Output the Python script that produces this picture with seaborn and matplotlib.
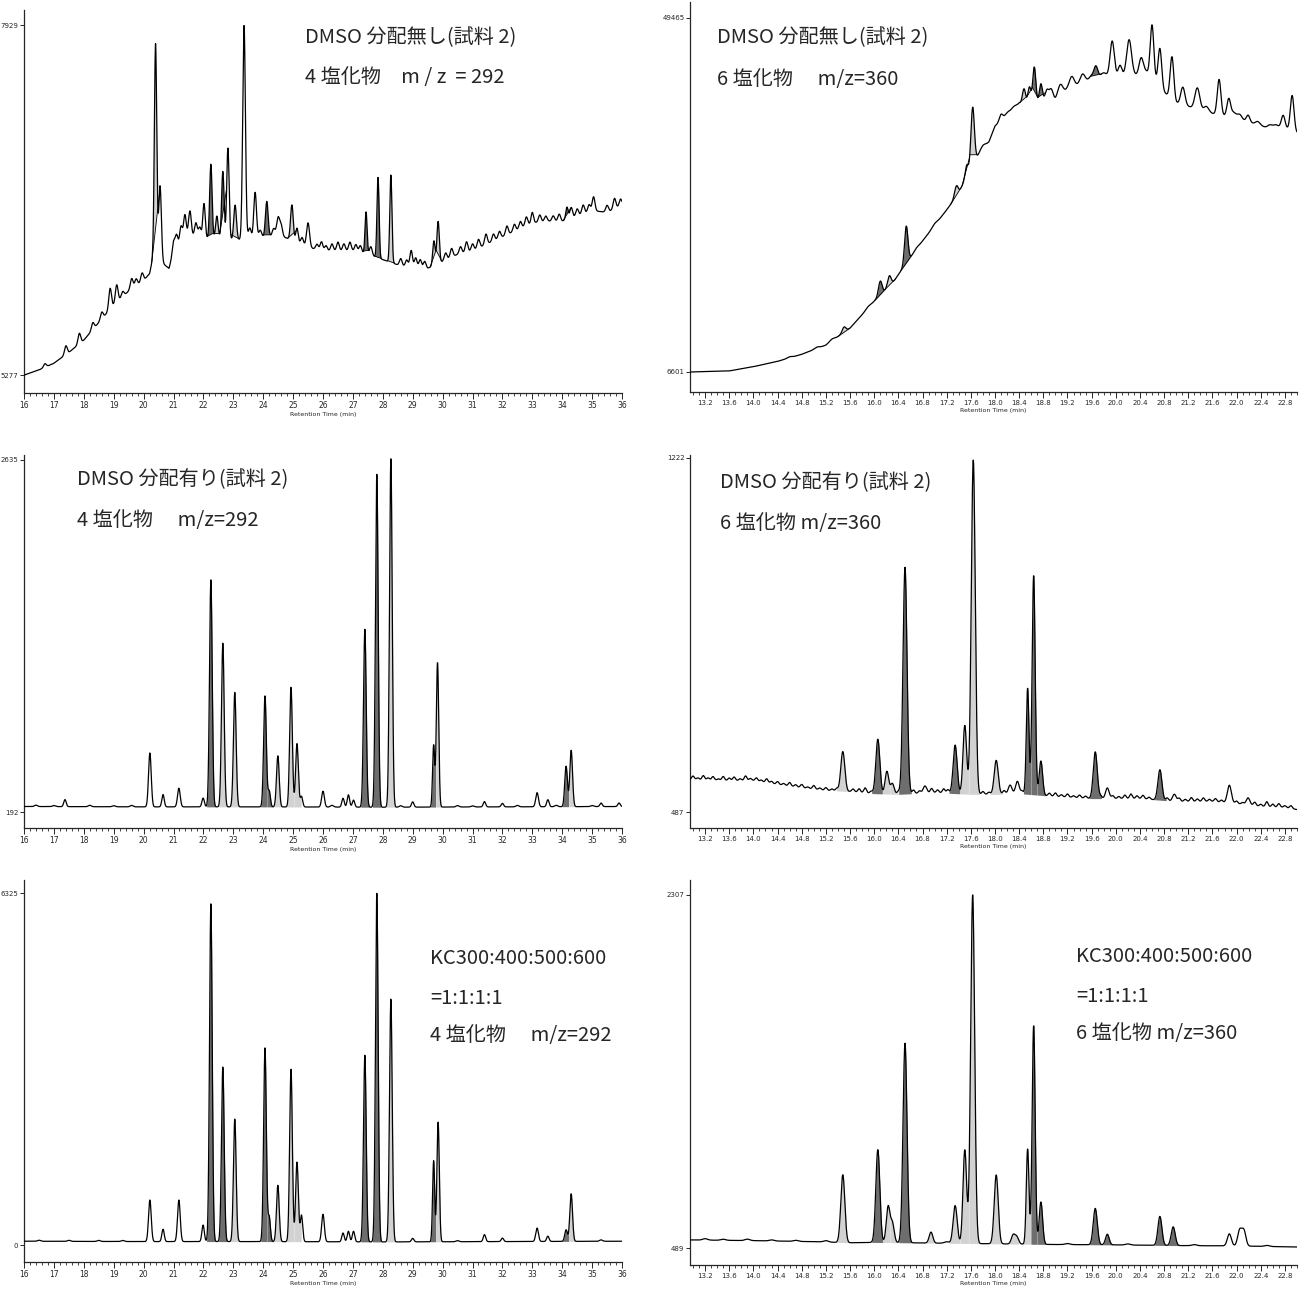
import numpy as np
import pandas as pd
import matplotlib
matplotlib.use("Agg")
import matplotlib.pyplot as plt
import seaborn as sns
from matplotlib.ticker import MultipleLocator

sns.set_style("ticks")
plt.rcParams["font.family"] = ["Noto Sans CJK JP", "DejaVu Sans"]

# ---------------- data (intensity in % of the range between the two y labels) -----------
# Panel 1: DMSO 分配無し, 4塩化物 m/z=292
p1_base_t = [16.0, 16.5, 17.0, 17.5, 18.0, 18.5, 19.0, 19.5, 20.0, 20.2, 20.3, 20.7, 20.85, 21.0,
             21.5, 22.0, 22.5, 23.0, 23.5, 24.0, 24.5, 25.0, 25.5, 26.0, 26.5, 27.0, 27.5, 28.0,
             28.5, 29.0, 29.5, 30.0, 30.5, 31.0, 31.5, 32.0, 32.5, 33.0, 33.5, 34.0, 34.5, 35.0,
             35.5, 36.0]
p1_base_y = [0, 1.5, 3.4, 6.5, 10, 15, 20, 24, 27, 29, 33, 31.5, 30.5, 35,
             40, 39, 39.5, 38.5, 39, 39.5, 40, 38.5, 36.5, 35.5, 35.5, 35.5, 34.5, 33,
             31.5, 30.5, 30.5, 32.5, 34.5, 35.5, 37.5, 39.5, 41.5, 43.5, 44, 44, 45.5, 47,
             46.5, 48.5]
p1_peaks = [(20.40, 62, 0.04, "l"), (20.55, 22, 0.045, None), (22.02, 10, 0.04, None),
            (22.25, 21, 0.04, "d"), (22.45, 6, 0.04, "l"), (22.65, 19, 0.04, "d"),
            (22.82, 26, 0.04, None), (23.06, 10, 0.045, "l"), (23.36, 61, 0.045, None),
            (23.73, 13, 0.045, None), (24.12, 10, 0.045, "d"), (24.50, 5, 0.05, None),
            (24.96, 10, 0.045, "l"), (25.13, 4, 0.04, None), (25.50, 7, 0.05, None),
            (27.44, 12, 0.035, "d"), (27.84, 23, 0.035, "d"), (28.27, 25, 0.035, "l"),
            (29.71, 7, 0.04, "l"), (29.85, 12, 0.04, "l"), (33.00, 3, 0.04, None),
            (34.16, 3.5, 0.04, "d")]
p1_noise = [(16.7, 1), (17.4, 2.5), (17.85, 3), (18.3, 2), (18.6, 2), (18.88, 6), (19.1, 5),
            (19.3, 1.5), (19.6, 3), (19.75, 2), (19.95, 2.5), (21.0, 3), (21.1, 4), (21.25, 5),
            (21.38, 7), (21.55, 7), (21.75, 4), (21.88, 3), (23.55, 3), (23.9, 2), (24.35, 2),
            (24.6, 3), (25.3, 2), (25.8, 1.5), (25.95, 2.5), (26.1, 1.5), (26.3, 2), (26.5, 2.5),
            (26.7, 2), (26.9, 2.5), (27.1, 2), (27.25, 2), (27.6, 2.5), (28.6, 2), (28.8, 2),
            (28.95, 5), (29.1, 3), (29.25, 2.5), (29.4, 2), (30.1, 2), (30.3, 2.5), (30.6, 2),
            (30.8, 3), (31.0, 2), (31.2, 2.5), (31.45, 3), (31.7, 2), (31.9, 2), (32.15, 2.5),
            (32.4, 2), (32.6, 2), (32.8, 2.5), (33.25, 2), (33.45, 1.5), (33.7, 1.5), (33.9, 2),
            (34.3, 3), (34.5, 2), (34.7, 2.5), (34.9, 2), (35.05, 4), (35.5, 2), (35.75, 3),
            (35.95, 2)]

# Panel 2: DMSO 分配無し, 6塩化物 m/z=360
p2_base_t = [12.95, 13.6, 14.0, 14.4, 14.8, 15.2, 15.6, 16.0, 16.3, 16.5, 16.8, 17.2, 17.4, 17.6,
             17.75, 17.9, 18.0, 18.2, 18.4, 18.6, 19.0, 19.2, 19.5, 19.7, 20.0, 20.3, 20.6, 20.8,
             21.0, 21.3, 21.6, 21.9, 22.2, 22.5, 22.8, 23.0]
p2_base_y = [0, 0.3, 1.5, 3, 5, 7.6, 12.4, 20, 25, 30, 37, 45.8, 50.5, 58,
             62, 65, 69.5, 72, 76, 76, 77, 80, 82, 83.5, 83.5, 84, 83, 79,
             76, 74.5, 73, 72, 70.5, 69, 69, 67.5]
p2_peaks = [(15.50, 1.5, 0.03, "l"), (16.10, 4, 0.03, "d"), (16.25, 3, 0.03, "l"),
            (16.53, 10.5, 0.028, "d"), (17.36, 3, 0.03, "l"), (17.53, 3, 0.025, "d"),
            (17.63, 16, 0.028, "l"), (18.10, 2, 0.03, None), (18.48, 4, 0.025, "l"),
            (18.57, 4.5, 0.025, "l"), (18.65, 10, 0.025, "d"), (18.76, 5, 0.025, "d"),
            (18.86, 3, 0.03, None), (18.93, 3, 0.03, None), (19.08, 3, 0.04, None),
            (19.27, 3, 0.04, None), (19.45, 2.5, 0.04, None), (19.67, 3, 0.03, "d"),
            (19.94, 10, 0.035, None), (20.07, 3, 0.03, None), (20.22, 10, 0.04, None),
            (20.42, 5, 0.035, None), (20.60, 15, 0.03, None), (20.73, 11, 0.03, None),
            (20.93, 12, 0.03, None), (21.11, 5, 0.035, None), (21.35, 6, 0.04, None),
            (21.71, 10, 0.03, None), (21.87, 5, 0.03, None), (22.19, 2, 0.03, None),
            (22.77, 3.5, 0.03, None), (22.92, 10, 0.03, None)]
p2_noise = [(14.6, 0.3), (15.05, 0.4), (15.3, 0.5), (15.9, 0.4), (16.7, 0.4), (17.0, 0.5),
            (17.8, 1.0), (18.2, 1.2), (18.3, 0.8), (19.6, 1), (19.8, 1), (20.5, 1.5), (21.5, 1.5),
            (21.95, 1.5), (22.05, 1.5), (22.35, 1), (22.55, 0.8), (22.65, 0.8)]

# Panel 3: DMSO 分配有り, 4塩化物 m/z=292
p3_base_t = [16.0, 20.0, 24.0, 28.0, 32.0, 36.0]
p3_base_y = [1.6, 1.5, 1.5, 1.4, 1.5, 1.6]
p3_peaks = [(17.37, 2, 0.04, None), (20.21, 15.3, 0.045, None), (20.65, 3.5, 0.04, None),
            (21.18, 5.3, 0.045, None), (21.99, 2.5, 0.04, None), (22.25, 64.5, 0.045, "d"),
            (22.65, 46.5, 0.045, "l"), (23.05, 32.5, 0.045, "l"), (24.06, 31.5, 0.045, "d"),
            (24.20, 4.5, 0.04, "d"), (24.49, 14.5, 0.045, "l"), (24.93, 34, 0.045, "l"),
            (25.13, 18, 0.045, "l"), (25.28, 3, 0.04, None), (26.00, 4.5, 0.045, None),
            (26.67, 2.5, 0.04, None), (26.85, 3.5, 0.04, None), (27.02, 2, 0.04, None),
            (27.40, 50.5, 0.045, "d"), (27.80, 94.5, 0.045, "d"), (28.27, 99, 0.045, "l"),
            (29.00, 1.5, 0.04, None), (29.70, 17.5, 0.035, "d"), (29.83, 41, 0.04, "l"),
            (31.40, 1.5, 0.04, None), (32.00, 1, 0.04, None), (33.16, 4, 0.045, None),
            (33.52, 2, 0.04, None), (34.13, 11.5, 0.045, "d"), (34.30, 16, 0.045, "l"),
            (35.30, 1, 0.04, None), (35.90, 1, 0.04, None)]
p3_noise = [(16.4, 0.4), (17.0, 0.3), (18.2, 0.4), (19.0, 0.3), (19.6, 0.4), (26.3, 0.5),
            (28.6, 0.4), (30.5, 0.4), (31.0, 0.3), (32.5, 0.4), (33.8, 0.4), (35.0, 0.3)]

# Panel 4: DMSO 分配有り, 6塩化物 m/z=360
p4_base_t = [12.95, 13.6, 14.0, 14.4, 14.8, 15.2, 15.6, 16.0, 16.4, 17.0, 17.6, 18.0, 18.4,
             19.0, 19.6, 20.0, 20.4, 21.0, 21.6, 22.0, 22.4, 22.8, 23.0]
p4_base_y = [9.2, 8.9, 8.9, 7.8, 6.9, 6.1, 5.8, 5.2, 5.0, 5.5, 5.0, 5.0, 5.2,
             4.4, 3.8, 3.8, 3.8, 3.0, 3.0, 2.4, 1.6, 1.3, 0.7]
p4_peaks = [(15.48, 11.2, 0.033, "l"), (16.06, 15.4, 0.033, "d"), (16.21, 6.4, 0.03, "l"),
            (16.30, 3, 0.03, "l"), (16.51, 64, 0.033, "d"), (16.84, 2, 0.03, None),
            (17.34, 13.7, 0.033, "d"), (17.50, 19.4, 0.03, "l"), (17.64, 94.5, 0.033, "l"),
            (18.02, 9.6, 0.033, "l"), (18.25, 2.5, 0.03, None), (18.37, 3.5, 0.03, None),
            (18.54, 30, 0.022, "d"), (18.64, 62, 0.025, "d"), (18.76, 9.7, 0.028, "d"),
            (19.66, 13.2, 0.033, "d"), (19.86, 3, 0.03, None), (20.73, 8.6, 0.033, "d"),
            (20.97, 2, 0.03, None), (21.88, 5, 0.033, None), (22.19, 2, 0.03, None)]
p4_noise = [(13.0, 1.0), (13.08, 0.5), (13.17, 1.2), (13.25, 0.6), (13.33, 1.0), (13.42, 0.4),
            (13.5, 1.1), (13.6, 0.7), (13.68, 1.0), (13.78, 0.5), (13.87, 1.3), (13.95, 0.6),
            (14.05, 0.9), (14.13, 0.5), (14.22, 1.1), (14.3, 0.6), (14.4, 0.8), (14.5, 0.5),
            (14.6, 1.0), (14.7, 0.6), (14.8, 0.9), (14.9, 0.4), (15.0, 1.0), (15.1, 0.5),
            (15.2, 0.8), (15.3, 0.5), (15.38, 0.7), (15.65, 0.8), (15.75, 1.0), (15.85, 1.4),
            (15.95, 0.6), (16.4, 0.8), (16.65, 1.0), (16.75, 0.7), (16.95, 1.2), (17.05, 0.8),
            (17.15, 1.2), (17.22, 1.0), (17.8, 0.8), (17.9, 0.6), (18.15, 1.0), (18.45, 0.8),
            (18.9, 0.8), (19.0, 1.0), (19.1, 0.6), (19.2, 0.9), (19.3, 0.5), (19.4, 0.8),
            (19.5, 0.6), (19.75, 0.7), (19.95, 0.8), (20.05, 0.6), (20.15, 1.0), (20.25, 1.3),
            (20.35, 0.8), (20.45, 1.0), (20.55, 0.6), (20.85, 0.8), (21.05, 0.9), (21.15, 0.6),
            (21.25, 1.1), (21.35, 0.7), (21.45, 1.0), (21.55, 0.6), (21.65, 0.9), (21.75, 0.6),
            (22.0, 0.7), (22.1, 0.5), (22.3, 1.0), (22.4, 0.6), (22.5, 1.4), (22.6, 0.8),
            (22.7, 1.0), (22.8, 0.5), (22.9, 0.8)]

# Panel 5: KC300:400:500:600 = 1:1:1:1, 4塩化物 m/z=292
p5_base_t = [16.0, 20.0, 24.0, 28.0, 32.0, 36.0]
p5_base_y = [1.1, 1.0, 1.0, 0.9, 1.0, 1.1]
p5_peaks = [(20.21, 11.8, 0.045, None), (20.65, 3.5, 0.04, None), (21.18, 11.8, 0.045, None),
            (21.99, 4.7, 0.04, None), (22.25, 96, 0.045, "d"), (22.65, 49.6, 0.045, "d"),
            (23.05, 34.8, 0.045, "l"), (24.06, 55, 0.045, "d"), (24.20, 7, 0.04, "d"),
            (24.49, 16, 0.045, "l"), (24.93, 49, 0.045, "l"), (25.13, 22.6, 0.045, "l"),
            (25.28, 7.5, 0.04, None), (26.00, 7.8, 0.045, None), (26.67, 2.5, 0.04, None),
            (26.85, 3, 0.04, None), (27.02, 3, 0.04, None), (27.40, 53, 0.045, "d"),
            (27.80, 99, 0.045, "d"), (28.27, 69, 0.045, "l"), (29.00, 1, 0.04, None),
            (29.70, 23, 0.035, "d"), (29.85, 34, 0.04, "l"), (31.40, 2, 0.04, None),
            (32.00, 1, 0.04, None), (33.16, 3.8, 0.045, None), (33.52, 1.5, 0.04, None),
            (34.13, 3.3, 0.045, "d"), (34.30, 13.5, 0.045, "l")]
p5_noise = [(16.5, 0.3), (17.5, 0.3), (18.5, 0.3), (19.3, 0.3), (30.5, 0.3), (35.3, 0.4)]

# Panel 6: KC300:400:500:600 = 1:1:1:1, 6塩化物 m/z=360
p6_base_t = [12.95, 14.0, 15.0, 15.6, 16.0, 17.0, 18.0, 19.0, 20.0, 21.0, 22.0, 23.0]
p6_base_y = [2.3, 2.1, 1.8, 1.5, 1.6, 1.4, 1.2, 1.0, 0.9, 0.7, 0.6, 0.3]
p6_peaks = [(15.48, 19.2, 0.033, "l"), (16.06, 26.3, 0.033, "d"), (16.23, 10.1, 0.03, "l"),
            (16.30, 5.5, 0.03, "l"), (16.51, 56.5, 0.033, "d"), (16.94, 3.1, 0.03, "l"),
            (17.34, 10.7, 0.033, "l"), (17.50, 26.5, 0.03, "l"), (17.63, 98.7, 0.033, "l"),
            (18.02, 19.5, 0.033, "l"), (18.30, 2.5, 0.03, "l"), (18.36, 2, 0.03, None),
            (18.54, 27, 0.022, "l"), (18.64, 62, 0.025, "d"), (18.76, 12, 0.028, "d"),
            (19.66, 10.3, 0.033, "d"), (19.86, 3, 0.03, "d"), (20.73, 8.2, 0.033, "d"),
            (20.95, 5.3, 0.033, "d"), (21.88, 3.4, 0.033, None), (22.05, 4.4, 0.033, None),
            (22.12, 4.4, 0.033, None)]
p6_noise = [(13.2, 0.4), (13.5, 0.3), (13.9, 0.4), (14.3, 0.3), (14.7, 0.3), (15.2, 0.4),
            (17.2, 0.4), (19.2, 0.3), (20.2, 0.3), (21.3, 0.3), (22.5, 0.3)]

# y-axis labels (min, max) for each panel
p1_ylabels = ["5277", "7929"]
p2_ylabels = ["6601", "49465"]
p3_ylabels = ["192", "2635"]
p4_ylabels = ["487", "1222"]
p5_ylabels = ["0", "6325"]
p6_ylabels = ["489", "2307"]

left_xticks = list(range(16, 37))
right_xticks = [round(13.2 + 0.4 * i, 1) for i in range(25)]

texts = {
    1: ["DMSO 分配無し(試料 2)", "4 塩化物　m / z  = 292"],
    2: ["DMSO 分配無し(試料 2)", "6 塩化物　 m/z=360"],
    3: ["DMSO 分配有り(試料 2)", "4 塩化物　 m/z=292"],
    4: ["DMSO 分配有り(試料 2)", "6 塩化物 m/z=360"],
    5: ["KC300:400:500:600", "=1:1:1:1", "4 塩化物　 m/z=292"],
    6: ["KC300:400:500:600", "=1:1:1:1", "6 塩化物 m/z=360"],
}

# ---------------- figure -----------------
W, H = 1306, 1295
fig = plt.figure(figsize=(W / 100, H / 100), dpi=100)
fig.patch.set_facecolor("white")

DARK, LIGHT = "#6e6e6e", "#d2d2d2"


def add_ax(x0, y0, x1, y1):
    return fig.add_axes([x0 / W, 1 - y1 / H, (x1 - x0) / W, (y1 - y0) / H])


def trace(tg, bt, by, peaks, noise, sn):
    y = np.interp(tg, bt, by)
    for t0, h, s, _ in peaks:
        y = y + h * np.exp(-0.5 * ((tg - t0) / s) ** 2)
    for t0, h in noise:
        y = y + h * np.exp(-0.5 * ((tg - t0) / sn) ** 2)
    return y


def panel(ax, xlim, ylim, bt, by, peaks, noise, sn, ylabels, left, to_base):
    tg = np.arange(xlim[0], xlim[1] + 1e-9, 0.004)
    y = trace(tg, bt, by, peaks, noise, sn)
    df = pd.DataFrame({"Retention Time (min)": tg, "Intensity": y})
    filled = sorted([p for p in peaks if p[3]], key=lambda p: p[0])
    for i, (t0, h, s, f) in enumerate(filled):
        lo, hi = t0 - 3.2 * s, t0 + 3.2 * s
        if i > 0:
            lo = max(lo, (filled[i - 1][0] + t0) / 2)
        if i < len(filled) - 1:
            hi = min(hi, (filled[i + 1][0] + t0) / 2)
        m = (tg >= lo) & (tg <= hi)
        tw, yw = tg[m], y[m]
        if to_base:
            chord = np.interp(tw, bt, by)
        else:
            chord = np.interp(tw, [tw[0], tw[-1]], [yw[0], yw[-1]])
        ax.fill_between(tw, chord, yw, where=yw >= chord, color=DARK if f == "d" else LIGHT,
                        lw=0, zorder=1)
        if not to_base:
            ax.plot([tw[0], tw[-1]], [yw[0], yw[-1]], color="black", lw=0.6, zorder=2)
    sns.lineplot(data=df, x="Retention Time (min)", y="Intensity", ax=ax, color="black",
                 lw=0.9, estimator=None, sort=False, zorder=3)
    ax.set_xlim(*xlim)
    ax.set_ylim(*ylim)
    sns.despine(ax=ax)
    for sp in ("left", "bottom"):
        ax.spines[sp].set_linewidth(0.9)
    ax.set_yticks([0, 100])
    ax.set_yticklabels(ylabels, fontsize=5, family="DejaVu Sans")
    ax.set_ylabel("")
    if left:
        ax.set_xticks(left_xticks)
        ax.set_xticklabels([str(v) for v in left_xticks], fontsize=5.5, family="DejaVu Sans")
        ax.xaxis.set_minor_locator(MultipleLocator(0.2))
    else:
        ax.set_xticks(right_xticks)
        ax.set_xticklabels([f"{v:.1f}" for v in right_xticks], fontsize=5, family="DejaVu Sans")
        ax.xaxis.set_minor_locator(MultipleLocator(0.1))
    ax.tick_params(axis="both", which="major", direction="out", length=4, width=0.7, pad=2)
    ax.tick_params(axis="x", which="minor", direction="out", length=2.5, width=0.6)
    ax.tick_params(axis="y", which="major", length=3, pad=1)
    ax.set_xlabel("Retention Time (min)", fontsize=4.5, family="DejaVu Sans", labelpad=1)
    ax.patch.set_alpha(0)


LX = (16.0, 36.0)
RX = (12.95, 23.0)

ax1 = add_ax(24, 10, 622, 393)
panel(ax1, LX, (-5.1, 104.3), p1_base_t, p1_base_y, p1_peaks, p1_noise, 0.045, p1_ylabels, True, False)
ax2 = add_ax(690, 2, 1297, 392)
panel(ax2, RX, (-5.65, 104.5), p2_base_t, p2_base_y, p2_peaks, p2_noise, 0.04, p2_ylabels, False, False)
ax3 = add_ax(24, 455, 622, 828)
panel(ax3, LX, (-4.5, 101.4), p3_base_t, p3_base_y, p3_peaks, p3_noise, 0.05, p3_ylabels, True, True)
ax4 = add_ax(690, 455, 1297, 828)
panel(ax4, RX, (-4.5, 100.8), p4_base_t, p4_base_y, p4_peaks, p4_noise, 0.022, p4_ylabels, False, True)
ax5 = add_ax(24, 880, 622, 1262)
panel(ax5, LX, (-4.8, 103.7), p5_base_t, p5_base_y, p5_peaks, p5_noise, 0.05, p5_ylabels, True, True)
ax6 = add_ax(690, 880, 1297, 1265)
panel(ax6, RX, (-4.8, 104.2), p6_base_t, p6_base_y, p6_peaks, p6_noise, 0.04, p6_ylabels, False, True)

text_pos = {1: (305, [38, 77]), 2: (717, [38, 80]), 3: (77, [480, 521]), 4: (720, [483, 523]),
            5: (430, [958, 998, 1036]), 6: (1076, [956, 996, 1034])}
for k, lines in texts.items():
    x, ys = text_pos[k]
    for line, yy in zip(lines, ys):
        fig.text(x / W, 1 - yy / H, line, fontsize=14.5, ha="left", va="center",
                 family=["Noto Sans CJK JP", "DejaVu Sans"])

fig.savefig("out.png", dpi=100, facecolor="white")
